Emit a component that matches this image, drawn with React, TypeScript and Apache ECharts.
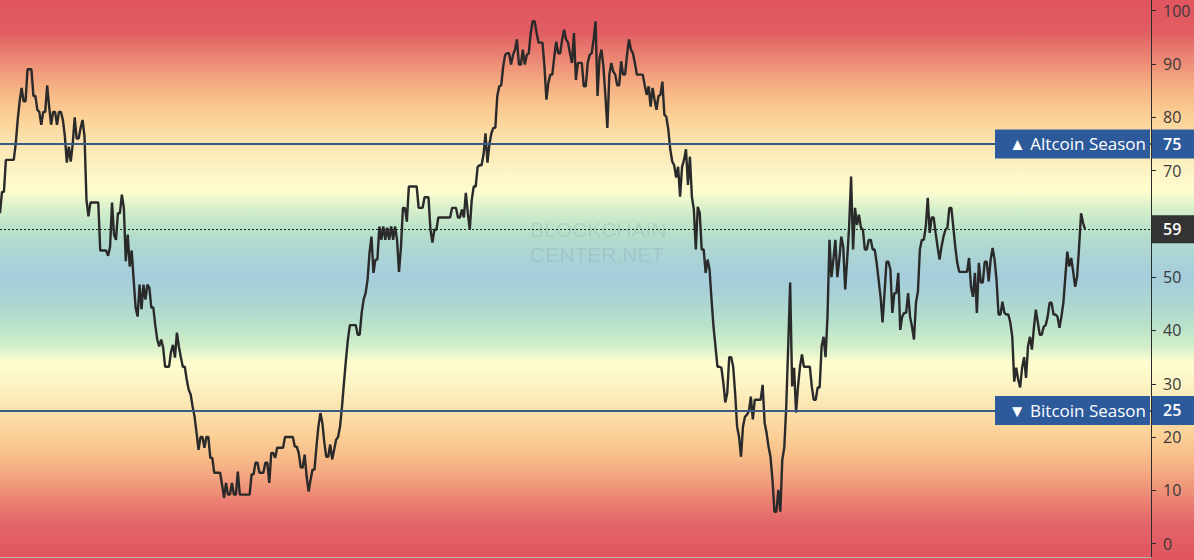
import React, { useEffect, useRef } from "react";
import * as echarts from "echarts";

// Altcoin Season Index (daily points, oldest first)
const period1 = [
  62, 66, 66, 72, 72, 72, 72, 72, 75, 79.5,
  83, 85.5, 83, 83, 89, 89, 89, 84, 84, 81.4,
  81, 78.6, 81, 81, 86, 82, 78.6, 81, 81, 78.6,
  81, 81, 79.5, 76.4, 71.5, 74.5, 71.7, 75, 80, 76,
  76, 78, 79.5, 76.4, 64.5, 61.4, 64, 64, 64, 64,
  64, 55, 55, 55, 55, 54, 55.7, 64, 58, 57,
  62, 62, 65.5, 63, 53, 58, 52, 55, 49.5,
];
const period2 = [
  44.3, 42.6, 48.6, 44, 48.6, 45.8, 48.6, 48, 44.3, 44.3,
  41, 38.3, 37, 38.3, 36.8, 33.2, 33.2, 33.2, 36, 37.3,
  34.9, 39.6, 37, 35, 33.2, 33.2, 30.8, 28.9, 28, 25.7,
  23.8, 20.8, 17.6, 20, 20, 18, 20, 20, 16.1, 16.1,
  13.3, 13.3, 13.3, 13.3, 11, 8.6, 11.4, 9.2, 9.2, 11.4, 9.2,
  9.2, 13.5, 9.2, 9.2, 9.2, 9.2, 9.2, 9.2, 13, 13, 15.2,
  15.2, 13.3, 13.3, 13.3, 15.2, 15.2, 11.4, 17, 17, 16.1,
  18, 18, 18, 18, 20, 20, 20, 20, 20, 18.2, 18.2, 17,
  14.3, 14.3, 16.7, 12.6, 9.8, 12, 13.9, 13.9, 18.2, 22,
  24.5, 22.7, 19, 16.3, 16.3, 18.6, 15.8, 17.6, 19.5, 20,
  22, 25.7, 30.2, 34.5, 38.3, 41, 41, 41, 41, 39.2, 39.2,
  43.3, 45.8, 47, 49.5,
];
const period3 = [
  54.6, 57.6, 50.8, 53.3, 53.3, 59.5, 57, 59.5, 57, 59.3,
  57, 59.5, 57, 59.5, 57, 51, 55.7, 63, 63, 60.4,
  67, 67, 67, 67, 67, 63, 63, 63, 65, 65, 65,
  58.9, 56.5, 58.9, 58.9, 61.2, 61.2, 61.2, 61.2, 61.2, 61.2, 61.2,
  63, 63, 63, 61.2, 61.2, 62.7, 61.2, 65.8, 62, 58.9,
  64.5, 67, 67, 70.7, 71, 71, 73, 77, 71.5, 75,
  77, 78, 78, 84, 85.8, 86, 89.5, 91.7, 92, 92,
  89.9, 91.7, 92.7, 94.6, 89.9, 89.9, 92.7, 89.9, 91.7, 92,
  95.8, 98, 98, 95.8, 94, 94, 94, 89.5, 83.3, 86.5,
  88, 88, 91.4, 94.2, 92, 92, 94.6, 96.4, 94.6, 94,
  92, 90.2, 95.8, 87, 90.2, 90.2, 90.2, 85.8, 85.8, 90.2,
  91.7, 92, 94.6, 98, 84, 91, 92.7, 89.5, 84, 78,
  88, 90.2, 88.6, 88, 86, 86, 90.5, 88, 88, 91.7,
  94.6, 92.7, 92, 90.2, 88, 88, 88, 88, 86, 84.2,
  85.8, 82, 85.5, 83.3, 81.4, 84, 84.2, 86.7, 80.5,
];
const period4 = [
  80.1, 77.7, 74, 71.7, 71, 68.7, 70.7, 65.1,
  70.7, 72, 74, 67.3, 72.6, 65.1, 62.7, 55.2,
  63.2, 62, 55.2, 55.2, 50.8, 53.3, 51.4, 45.8, 40.7, 37,
  33.2, 33.2, 33, 30.2, 26.5, 28.3, 35, 35, 33.2, 28.3,
  22, 20, 16.3, 22, 23.8, 24.2, 24.8, 27.6, 23.3, 27,
  27, 27, 27, 29.8, 22.7, 20.8, 18.2, 16.3, 12, 6, 6,
  10.1, 6, 15.8, 18, 25.7, 37, 49, 29.5, 33, 24.6,
  29.5, 33.2, 35.5, 33.2, 33.2, 33.2, 33.2, 29.5, 27, 27,
  29.3, 29.3, 37, 38.8, 35, 42.6, 57, 50, 53.3, 57,
  50, 53.3, 57.6, 55.7, 47.7, 53.3, 59.5, 68.9, 55.2,
  63, 59.8, 61.7, 59.3, 58.9, 55.2, 55.2, 57, 57,
  55.2, 55.2, 52.7, 49.5, 46.3, 41.5, 47, 52.9, 52.9, 51.4,
  43.3, 47, 47, 50.8, 40.1, 42.6, 43.3, 43.3, 47, 42.6,
  40.7, 38.3, 45.2, 47.3, 55.2, 57, 57, 59.5, 64.9, 58.3,
  61.2, 61.2, 58.3, 55.7, 53.3, 55.7, 57.6, 58.9, 59.3, 63,
  63, 59.5, 55.7, 52.7, 51, 51, 51, 51, 51, 53.6, 48.2,
  46.3, 50.8, 43.3, 52.7, 49, 49, 52.9, 52.9, 49.2, 53.3,
  55.5, 53.3, 49.5, 43,
];
const period5 = [
  43, 45.4, 43.3, 43, 43, 41.5, 38.8, 30.4, 33,
  30.8, 29.3, 33, 35, 31.1, 37, 38.8, 36.4,
  40.5, 43.9, 41.5, 39.2, 39.2, 40.7, 41, 42.6, 45.2, 45.2,
  43, 43, 42.6, 40.5, 42.6, 45.2, 50.1, 54.8, 52, 53.6,
  51, 48.2, 50.1, 55.7, 62, 60.2, 59,
];
const seasonIndex = [...period1, ...period2, ...period3, ...period4, ...period5];

const yTicks = [0, 10, 20, 30, 40, 50, 60, 70, 80, 90, 100];
// 60 is hidden behind the current-value box in the reference
const yTickLabels = [0, 10, 20, 30, 40, 50, 70, 80, 90, 100];
const ALTCOIN_LEVEL = 75;
const BITCOIN_LEVEL = 25;
const CURRENT_VALUE = 59;
const ALTCOIN_LABEL = "▲ Altcoin Season";
const BITCOIN_LABEL = "▼ Bitcoin Season";
const WATERMARK_LINES = ["BLOCKCHAIN", "CENTER.NET"];

// background colour bands (value -> colour)
const bandValues = [102, 96, 92, 88, 84, 80, 75, 70, 66, 63, 59, 55, 50, 45, 41, 37, 34, 30, 25, 20, 16, 12, 8, 4, -2.5];
const bandColors = [
  "#e0555f", "#e15d63", "#ea7f71", "#f29f7d", "#f8bc88", "#fbd196", "#fbe5b2", "#fcf4c5", "#fefdd0",
  "#d8f0ca", "#b9e2c9", "#add6d3", "#a5cddc", "#add6d3", "#b9e2c9", "#d3efca", "#fefdd0",
  "#fcf4c5", "#fbe2ae", "#fbcf95", "#f7bb88", "#f2a07e", "#eb8172", "#e3666a", "#e0555f",
];

export default function App() {
  const ref = useRef<HTMLDivElement>(null);

  useEffect(() => {
    document.body.style.margin = "0";
    const el = ref.current!;
    const chart = echarts.init(el, null, { renderer: "svg" });

    const W = 1194;
    const H = 560;
    const gridTop = 0;
    const gridBottom = 3;
    const gridRight = 43;
    const yMin = -2.5;
    const yMax = 102;
    const plotH = H - gridTop - gridBottom;
    const plotW = W - gridRight;
    const lineEndPx = 1085;
    const n = seasonIndex.length;
    const xMax = ((n - 1) * plotW) / lineEndPx;

    const yPix = (v: number) => gridTop + ((yMax - v) / (yMax - yMin)) * plotH;
    const stops = bandValues.map((v, i) => ({
      offset: Math.min(1, Math.max(0, yPix(v) / H)),
      color: bandColors[i],
    }));

    const font = "'Open Sans', 'Noto Sans', sans-serif";

    chart.setOption({
      animation: false,
      backgroundColor: new echarts.graphic.LinearGradient(0, 0, 0, 1, stops),
      grid: { left: 0, right: gridRight, top: gridTop, bottom: gridBottom },
      xAxis: {
        type: "value",
        min: 0,
        max: xMax,
        axisLine: { show: true, onZero: false, lineStyle: { color: "#bdb3b3", width: 1 } },
        axisTick: { show: false },
        axisLabel: { show: false },
        splitLine: { show: false },
      },
      yAxis: {
        type: "value",
        position: "right",
        min: yMin,
        max: yMax,
        axisLine: { show: true, onZero: false, lineStyle: { color: "#2b2b2b", width: 1 } },
        axisTick: { show: true, length: 5, customValues: yTicks, lineStyle: { color: "#2b2b2b" } },
        axisLabel: {
          customValues: yTickLabels,
          margin: 12,
          color: "#3a3a3a",
          fontSize: 16,
          fontFamily: font,
        },
        splitLine: { show: false },
      },
      series: [
        {
          type: "line",
          data: seasonIndex.map((v, i) => [i, v]),
          showSymbol: false,
          symbol: "none",
          lineStyle: { color: "#2a2a2a", width: 2.4 },
          z: 3,
          markLine: {
            silent: true,
            symbol: ["none", "none"],
            label: { show: false },
            data: [
              { yAxis: ALTCOIN_LEVEL, lineStyle: { color: "#3a5a86", width: 2, type: "solid" } },
              { yAxis: BITCOIN_LEVEL, lineStyle: { color: "#3a5a86", width: 2, type: "solid" } },
              { yAxis: CURRENT_VALUE, lineStyle: { color: "#1e1e1e", width: 1, type: [2, 2] } },
            ],
          },
        },
      ],
    });

    const xR = chart.convertToPixel({ xAxisIndex: 0 }, xMax) as number;
    const yAlt = chart.convertToPixel({ yAxisIndex: 0 }, ALTCOIN_LEVEL) as number;
    const yBtc = chart.convertToPixel({ yAxisIndex: 0 }, BITCOIN_LEVEL) as number;
    const yCur = chart.convertToPixel({ yAxisIndex: 0 }, CURRENT_VALUE) as number;
    const boxH = 29;
    const nameW = 155;

    const seasonBox = (y: number, label: string, value: number) => [
      {
        type: "rect",
        z: 100,
        shape: { x: xR - nameW - 1, y: y - boxH / 2, width: nameW, height: boxH },
        style: { fill: "#2d5a9b" },
      },
      {
        type: "text",
        z: 101,
        x: xR - 5,
        y: y,
        style: {
          text: label,
          fill: "#ffffff",
          font: `500 17px ${font}`,
          align: "right",
          verticalAlign: "middle",
        },
      },
      {
        type: "rect",
        z: 100,
        shape: { x: xR + 1, y: y - boxH / 2, width: W - xR - 1, height: boxH },
        style: { fill: "#2d5a9b" },
      },
      {
        type: "text",
        z: 101,
        x: xR + 12,
        y: y,
        style: {
          text: String(value),
          fill: "#ffffff",
          font: `600 16px ${font}`,
          align: "left",
          verticalAlign: "middle",
        },
      },
    ];

    chart.setOption({
      graphic: [
        ...WATERMARK_LINES.map((t, i) => ({
          type: "text",
          z: 1,
          silent: true,
          x: 530,
          y: 219 + i * 24.5,
          style: {
            text: t,
            fill: "rgba(70,100,110,0.13)",
            font: `21px 'Liberation Sans', Arial, sans-serif`,
            align: "left",
            verticalAlign: "top",
          },
        })),
        ...seasonBox(yAlt, ALTCOIN_LABEL, ALTCOIN_LEVEL),
        ...seasonBox(yBtc, BITCOIN_LABEL, BITCOIN_LEVEL),
        {
          type: "rect",
          z: 100,
          shape: { x: xR + 1, y: yCur - 14, width: W - xR - 1, height: 28 },
          style: { fill: "#333333" },
        },
        {
          type: "text",
          z: 101,
          x: xR + 12,
          y: yCur,
          style: {
            text: String(CURRENT_VALUE),
            fill: "#ffffff",
            font: `600 16px ${font}`,
            align: "left",
            verticalAlign: "middle",
          },
        },
      ],
    });

    return () => {
      chart.dispose();
    };
  }, []);

  return <div ref={ref} style={{ width: 1194, height: 560 }} />;
}
